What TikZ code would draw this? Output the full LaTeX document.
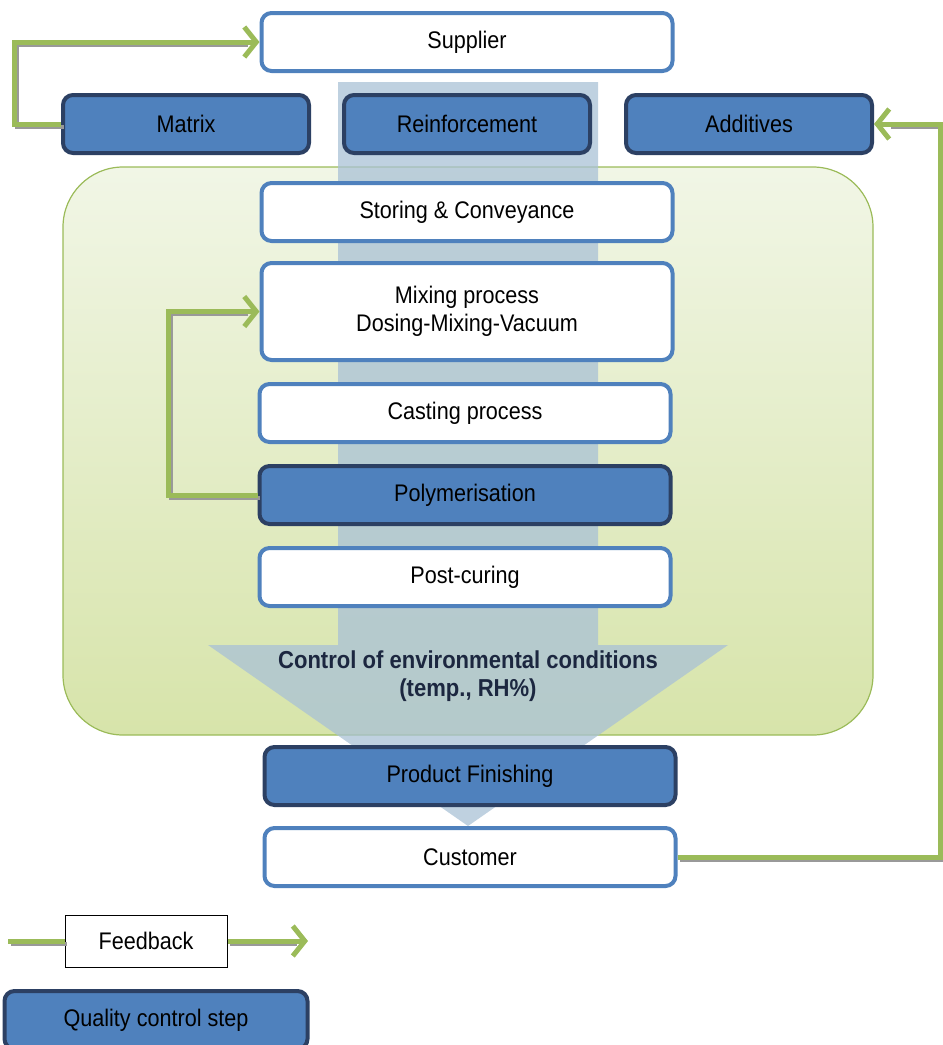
\documentclass[tikz,border=0pt]{standalone}
\usepackage{fontspec}
\setmainfont{Liberation Sans}[FakeStretch=0.9]
\usepackage{xcolor}
\usepackage{tikz}
\usetikzlibrary{shapes,arrows,positioning,calc,arrows.meta}

\definecolor{qcblue}{HTML}{4F81BD}
\definecolor{qcdark}{HTML}{2C4063}
\definecolor{fbgreen}{HTML}{9BBB59}
\definecolor{zonetop}{HTML}{F1F6E6}
\definecolor{zonebot}{HTML}{D7E4AA}
\definecolor{flowblue}{HTML}{A9C1D6}
\definecolor{envtext}{HTML}{1C2740}

\begin{document}
\begin{tikzpicture}[
    x=1pt, y=-1pt,
    node distance=20pt,
    process/.style={rectangle, draw=qcblue, fill=white, line width=4pt, minimum width=411pt, minimum height=58pt, text centered, rounded corners=10pt, font=\fontsize{24}{28}\selectfont, inner sep=0pt},
    control/.style={process, draw=qcdark, fill=qcblue, minimum width=246pt},
    feedback/.style={line width=5pt, fbgreen},
    fbshadow/.style={line width=4pt, black!40, transform canvas={xshift=2.5pt, yshift=-2.5pt}},
    fbtip/.style={-{Straight Barb[length=12pt,width=30pt]}}
]
    % environment zone and material flow
    \useasboundingbox (0,0) rectangle (943,1045);
    \draw[fbgreen, line width=1.2pt, rounded corners=60pt, top color=zonetop, bottom color=zonebot]
        (63,167) rectangle (873,735);
    \fill[flowblue, fill opacity=0.75]
        (338,82) -- (598,82) -- (598,645) -- (728,645) -- (468,826) -- (208,645) -- (338,645) -- cycle;

    \node[process] (supplier) at (467,42) {Supplier};
    \node[control, below=of supplier] (reinf) {Reinforcement};
    \node[control, left=31pt of reinf] (matrix) {Matrix};
    \node[control, right=32pt of reinf] (additives) {Additives};
    \node[process, below=26pt of reinf] (storing) {Storing \& Conveyance};
    \node[process, below=18pt of storing, minimum height=97pt, align=center] (mixing) {Mixing process\\Dosing-Mixing-Vacuum};
    \node[process, below=20pt of mixing, xshift=-2pt] (casting) {Casting process};
    \node[control, below=20pt of casting, minimum width=411pt] (polym) {Polymerisation};
    \node[process, below=20pt of polym] (postcure) {Post-curing};
    \node[font=\fontsize{24.5}{28}\selectfont\bfseries, text=envtext, align=center] (env) at (468,676) {Control of environmental conditions\\(temp., RH\%)};
    \node[control, minimum width=411pt] (finish) at (470,776) {Product Finishing};
    \node[process, below=19pt of finish] (customer) {Customer};

    % feedback loops
    \draw[fbshadow] (matrix.west) -- ++(-47,0) |- ($(supplier.west)+(-14,0)$);
    \draw[feedback, fbtip] (matrix.west) -- ++(-47,0) |- (supplier.west);
    \draw[fbshadow] (polym.west) -- ++(-89,0) |- ($(mixing.west)+(-14,0)$);
    \draw[feedback, fbtip] (polym.west) -- ++(-89,0) |- (mixing.west);
    \draw[fbshadow] (customer.east) -- ++(263,0) |- ($(additives.east)+(14,0)$);
    \draw[feedback, fbtip] (customer.east) -- ++(263,0) |- (additives.east);

    % legend
    \node[draw=black, line width=1pt, fill=white, minimum width=162pt, minimum height=52pt, font=\fontsize{24}{28}\selectfont] (fblegend) at (146,941) {Feedback};
    \coordinate (lgstart) at (8,941);
    \coordinate (lgend) at (308,941);
    \draw[fbshadow] (lgstart) -- (fblegend.west);
    \draw[feedback] (lgstart) -- (fblegend.west);
    \draw[fbshadow] (fblegend.east) -- ($(lgend)+(-14,0)$);
    \draw[feedback, fbtip] (fblegend.east) -- (lgend);
    \node[control, minimum width=303pt] (qclegend) at (156,1020) {Quality control step};
\end{tikzpicture}
\end{document}
